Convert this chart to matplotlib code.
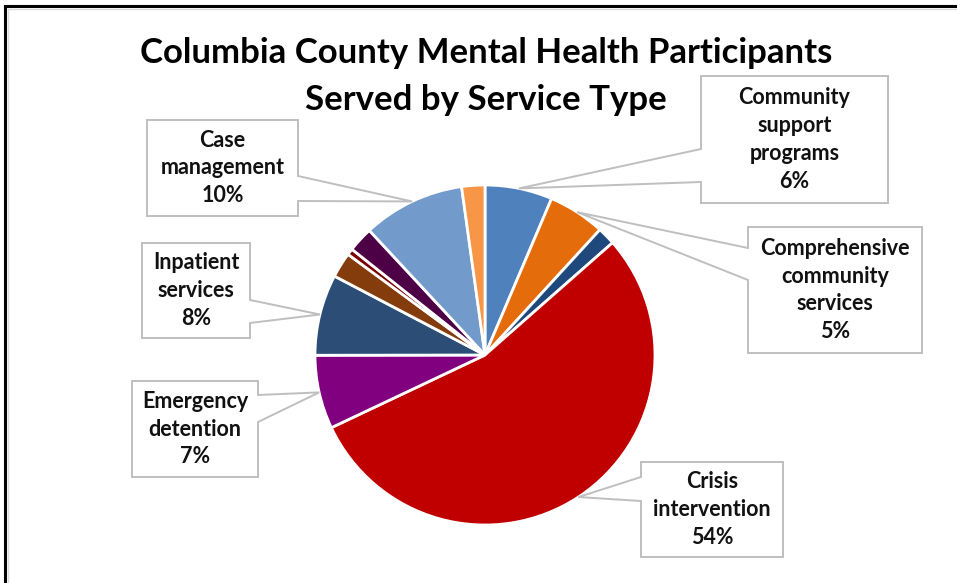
import matplotlib
matplotlib.use("Agg")
import matplotlib.pyplot as plt
import numpy as np
from matplotlib.patches import Polygon
from matplotlib.lines import Line2D

W, H = 957, 583

# share of participants (%) by service type, clockwise from 12 o'clock
services = ["Community\nsupport\nprograms", "Comprehensive\ncommunity\nservices", "",
            "Crisis\nintervention", "Emergency\ndetention", "Inpatient\nservices",
            "", "", "", "Case\nmanagement", ""]
shares = [6.4, 5.4, 1.7, 54.4, 7.0, 7.7, 2.4, 0.6, 2.4, 9.7, 2.2]
colors = ["#4F81BD", "#E46C0A", "#1F497D", "#C00000", "#800080", "#2C4D75",
          "#843C0C", "#7B0000", "#4D0045", "#729ACA", "#F79646"]

# callout boxes in pixel space: (left, top, right, bottom), which side the tail leaves from,
# and the two y positions where the tail meets that side
callouts = {
    0: ((701, 76, 888, 203), "left", (149, 182)),
    1: ((748, 227, 922, 353), "left", (248, 280)),
    3: ((641, 462, 783, 557), "left", (477, 501)),
    4: ((132, 381, 258, 477), "right", (395, 422)),
    5: ((142, 243, 250, 338), "right", (300, 323)),
    9: ((147, 120, 298, 216), "right", (176, 201)),
}

FONT = "Lato"
EDGE = "#BFBFBF"
CX, CY, R = 485, 355, 170

fig = plt.figure(figsize=(W / 100, H / 100), dpi=100)
ax = fig.add_axes([0, 0, 1, 1])

wedges, _ = ax.pie(shares, colors=colors, startangle=90, counterclock=False,
                   center=(CX, H - CY), radius=R, frame=True,
                   wedgeprops=dict(edgecolor="white", linewidth=2.0))
ax.set_xlim(0, W)
ax.set_ylim(0, H)
ax.set_aspect("equal")
ax.axis("off")

for i, ((x0, y0, x1, y1), side, (ya, yb)) in callouts.items():
    w = wedges[i]
    mid = np.deg2rad((w.theta1 + w.theta2) / 2)
    tip = (CX + R * np.cos(mid), H - CY + R * np.sin(mid))
    if side == "right":
        pts = [(x0, y0), (x1, y0), (x1, ya), None, (x1, yb), (x1, y1), (x0, y1)]
    else:
        pts = [(x0, y0), (x1, y0), (x1, y1), (x0, y1), (x0, yb), None, (x0, ya)]
    pts = [tip if p is None else (p[0], H - p[1]) for p in pts]
    ax.add_patch(Polygon(pts, closed=True, facecolor="white", edgecolor=EDGE,
                         linewidth=1.4, zorder=5))
    ax.text((x0 + x1) / 2, H - (y0 + y1) / 2, f"{services[i]}\n{shares[i]:.0f}%",
            ha="center", va="center", fontsize=15.5, fontweight="bold", family=FONT,
            color="#111111", linespacing=1.4, zorder=6)

ax.text(486, H - 53, "Columbia County Mental Health Participants", ha="center", va="center",
        fontsize=25, fontweight="bold", family=FONT, color="black")
ax.text(486, H - 100, "Served by Service Type", ha="center", va="center",
        fontsize=25, fontweight="bold", family=FONT, color="black")

# outer frame: dark rule on top and left edges with a faint inner line
fig.add_artist(Line2D([5 / W, 5 / W], [0, 1 - 6 / H], transform=fig.transFigure, color="black", lw=2.2))
fig.add_artist(Line2D([5 / W, 1], [1 - 6 / H, 1 - 6 / H], transform=fig.transFigure, color="black", lw=2.2))
fig.add_artist(Line2D([8 / W, 8 / W], [0, 1 - 9 / H], transform=fig.transFigure, color="#D9D9D9", lw=1))
fig.add_artist(Line2D([8 / W, 1], [1 - 9 / H, 1 - 9 / H], transform=fig.transFigure, color="#D9D9D9", lw=1))

fig.savefig("out.png", dpi=100, facecolor="white")
